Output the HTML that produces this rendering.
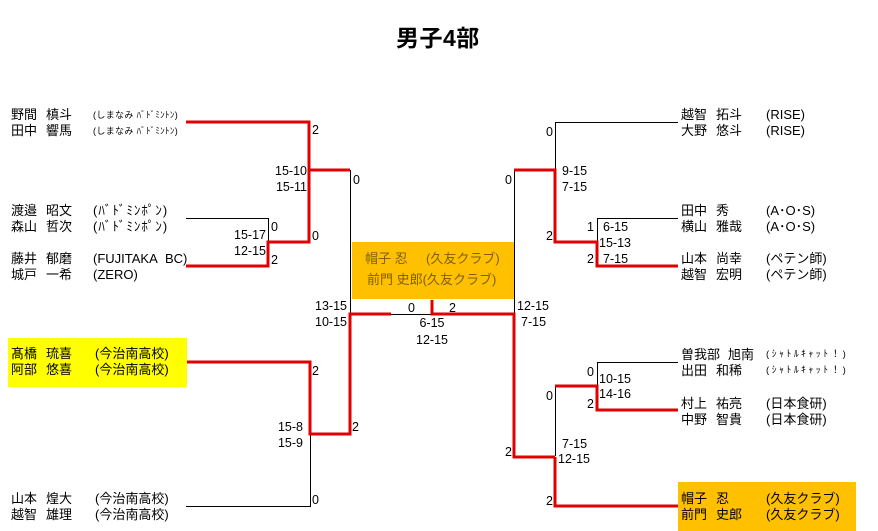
<!DOCTYPE html>
<html><head><meta charset="utf-8">
<style>
html,body{margin:0;padding:0;background:#fff;}
body{width:878px;height:531px;position:relative;overflow:hidden;font-family:"Liberation Sans","Noto Sans CJK JP",sans-serif;color:#000;}
.t{position:absolute;white-space:nowrap;font-size:13px;line-height:16px;}
.s{font-size:9px;letter-spacing:0.35px;}
.k{letter-spacing:1px;}
.sc{font-size:9.5px;letter-spacing:2.6px;}
.n{position:absolute;white-space:nowrap;font-size:12.5px;line-height:16px;font-family:"Liberation Sans",sans-serif;}
.r{text-align:right;}
svg{position:absolute;left:0;top:0;}
</style></head><body>
<div style="position:absolute;left:8px;top:338px;width:179px;height:49px;background:#ffff00;"></div>
<div style="position:absolute;left:352px;top:242px;width:163px;height:57px;background:#ffc000;"></div>
<div style="position:absolute;left:678px;top:482px;width:178px;height:49px;background:#ffc000;"></div>

<svg width="878" height="531" viewBox="0 0 878 531">
<g stroke="#000" stroke-width="1" fill="none">
<path d="M309.5 170 V242"/>
<path d="M350.5 170 V314"/>
<path d="M186 218.5 H268.5 V242"/>
<path d="M310.5 434 V506.5 H186"/>
<path d="M391 314.5 H432"/>
<path d="M514.5 170 V314"/>
<path d="M678 122.5 H555.5 V170"/>
<path d="M678 218.5 H597.5 V242"/>
<path d="M678 362.5 H597.5 V386"/>
<path d="M555.5 386 V456"/>
</g>
<g stroke="#e00000" stroke-width="3" fill="none" stroke-linejoin="miter">
<path d="M186 122 H309 V170 H350"/>
<path d="M186 266 H268 V242 H309 V170"/>
<path d="M187 362 H310 V434 H350 V314 H391"/>
<path d="M432 300 V314 H514 V457 H555"/>
<path d="M514 170 H555 V242 H597 V266 H678"/>
<path d="M555 457 V506 H678"/>
<path d="M555 386 H597 V410 H678"/>
</g>
</svg>

<div class="t" style="left:396px;top:23px;font-size:23px;line-height:30px;font-weight:bold;letter-spacing:0.5px;">男子4部</div>

<!-- Left names -->
<div class="t" style="left:11px;top:107px;">野間</div><div class="t" style="left:46px;top:107px;">槙斗</div><div class="t s" style="left:93px;top:107px;">(しまなみ ﾊﾞﾄﾞﾐﾝﾄﾝ)</div>
<div class="t" style="left:11px;top:123px;">田中</div><div class="t" style="left:46px;top:123px;">響馬</div><div class="t s" style="left:93px;top:123px;">(しまなみ ﾊﾞﾄﾞﾐﾝﾄﾝ)</div>

<div class="t" style="left:11px;top:203px;">渡邉</div><div class="t" style="left:46px;top:203px;">昭文</div><div class="t k" style="left:93px;top:203px;">(ﾊﾞﾄﾞﾐﾝﾎﾟﾝ)</div>
<div class="t" style="left:11px;top:219px;">森山</div><div class="t" style="left:46px;top:219px;">哲次</div><div class="t k" style="left:93px;top:219px;">(ﾊﾞﾄﾞﾐﾝﾎﾟﾝ)</div>

<div class="t" style="left:11px;top:251px;">藤井</div><div class="t" style="left:46px;top:251px;">郁磨</div><div class="t" style="left:93px;top:251px;">(FUJITAKA&nbsp; BC)</div>
<div class="t" style="left:11px;top:267px;">城戸</div><div class="t" style="left:46px;top:267px;">一希</div><div class="t" style="left:93px;top:267px;">(ZERO)</div>

<div class="t" style="left:11px;top:346px;">髙橋</div><div class="t" style="left:46px;top:346px;">琉喜</div><div class="t" style="left:95px;top:346px;">(今治南高校)</div>
<div class="t" style="left:11px;top:362px;">阿部</div><div class="t" style="left:46px;top:362px;">悠喜</div><div class="t" style="left:95px;top:362px;">(今治南高校)</div>

<div class="t" style="left:11px;top:491px;">山本</div><div class="t" style="left:46px;top:491px;">煌大</div><div class="t" style="left:95px;top:491px;">(今治南高校)</div>
<div class="t" style="left:11px;top:507px;">越智</div><div class="t" style="left:46px;top:507px;">雄理</div><div class="t" style="left:95px;top:507px;">(今治南高校)</div>

<!-- Right names -->
<div class="t" style="left:681px;top:107px;">越智</div><div class="t" style="left:716px;top:107px;">拓斗</div><div class="t" style="left:766px;top:107px;">(RISE)</div>
<div class="t" style="left:681px;top:123px;">大野</div><div class="t" style="left:716px;top:123px;">悠斗</div><div class="t" style="left:766px;top:123px;">(RISE)</div>

<div class="t" style="left:681px;top:203px;">田中</div><div class="t" style="left:716px;top:203px;">秀</div><div class="t" style="left:766px;top:203px;">(A･O･S)</div>
<div class="t" style="left:681px;top:219px;">横山</div><div class="t" style="left:716px;top:219px;">雅哉</div><div class="t" style="left:766px;top:219px;">(A･O･S)</div>

<div class="t" style="left:681px;top:251px;">山本</div><div class="t" style="left:716px;top:251px;">尚幸</div><div class="t" style="left:766px;top:251px;">(ペテン師)</div>
<div class="t" style="left:681px;top:267px;">越智</div><div class="t" style="left:716px;top:267px;">宏明</div><div class="t" style="left:766px;top:267px;">(ペテン師)</div>

<div class="t" style="left:681px;top:347px;">曽我部</div><div class="t" style="left:728px;top:347px;">旭南</div><div class="t sc" style="left:766px;top:347px;">(ｼｬﾄﾙｷｬｯﾄ！)</div>
<div class="t" style="left:681px;top:363px;">出田</div><div class="t" style="left:716px;top:363px;">和稀</div><div class="t sc" style="left:766px;top:363px;">(ｼｬﾄﾙｷｬｯﾄ！)</div>

<div class="t" style="left:681px;top:396px;">村上</div><div class="t" style="left:716px;top:396px;">祐亮</div><div class="t" style="left:766px;top:396px;">(日本食研)</div>
<div class="t" style="left:681px;top:412px;">中野</div><div class="t" style="left:716px;top:412px;">智貴</div><div class="t" style="left:766px;top:412px;">(日本食研)</div>

<div class="t" style="left:681px;top:491px;">帽子</div><div class="t" style="left:716px;top:491px;">忍</div><div class="t" style="left:766px;top:491px;">(久友クラブ)</div>
<div class="t" style="left:681px;top:507px;">前門</div><div class="t" style="left:716px;top:507px;">史郎</div><div class="t" style="left:766px;top:507px;">(久友クラブ)</div>

<!-- Center winner -->
<div class="t" style="left:365px;top:251px;color:#7f6000;">帽子 忍</div><div class="t" style="left:426px;top:251px;color:#7f6000;">(久友クラブ)</div>
<div class="t" style="left:367px;top:272px;color:#7f6000;">前門 史郎(久友クラブ)</div>

<!-- Left scores -->
<div class="n" style="left:312px;top:122px;">2</div>
<div class="n r" style="right:571px;top:163px;">15-10</div>
<div class="n r" style="right:571px;top:179px;">15-11</div>
<div class="n" style="left:353px;top:172px;">0</div>
<div class="n" style="left:271px;top:219px;">0</div>
<div class="n" style="left:271px;top:252px;">2</div>
<div class="n r" style="right:612px;top:227px;">15-17</div>
<div class="n r" style="right:612px;top:243px;">12-15</div>
<div class="n" style="left:312px;top:228px;">0</div>
<div class="n" style="left:312px;top:363px;">2</div>
<div class="n r" style="right:575px;top:419px;">15-8</div>
<div class="n r" style="right:575px;top:435px;">15-9</div>
<div class="n" style="left:312px;top:492px;">0</div>
<div class="n" style="left:352px;top:419px;">2</div>
<div class="n r" style="right:531px;top:298px;">13-15</div>
<div class="n r" style="right:531px;top:314px;">10-15</div>

<!-- Center scores -->
<div class="n" style="left:408px;top:300px;">0</div>
<div class="n" style="left:449px;top:300px;">2</div>
<div class="n" style="left:382px;top:315px;width:100px;text-align:center;">6-15</div>
<div class="n" style="left:382px;top:332px;width:100px;text-align:center;">12-15</div>
<div class="n" style="left:517px;top:298px;">12-15</div>
<div class="n" style="left:521px;top:314px;">7-15</div>

<!-- Right scores -->
<div class="n" style="left:505px;top:172px;">0</div>
<div class="n" style="left:546px;top:124px;">0</div>
<div class="n" style="left:562px;top:163px;">9-15</div>
<div class="n" style="left:562px;top:179px;">7-15</div>
<div class="n" style="left:546px;top:228px;">2</div>
<div class="n" style="left:587px;top:219px;">1</div>
<div class="n" style="left:603px;top:219px;">6-15</div>
<div class="n" style="left:599px;top:235px;">15-13</div>
<div class="n" style="left:587px;top:251px;">2</div>
<div class="n" style="left:603px;top:251px;">7-15</div>

<div class="n" style="left:587px;top:364px;">0</div>
<div class="n" style="left:599px;top:371px;">10-15</div>
<div class="n" style="left:599px;top:386px;">14-16</div>
<div class="n" style="left:587px;top:396px;">2</div>
<div class="n" style="left:546px;top:388px;">0</div>
<div class="n" style="left:562px;top:436px;">7-15</div>
<div class="n" style="left:558px;top:451px;">12-15</div>
<div class="n" style="left:505px;top:444px;">2</div>
<div class="n" style="left:546px;top:493px;">2</div>
</body></html>
